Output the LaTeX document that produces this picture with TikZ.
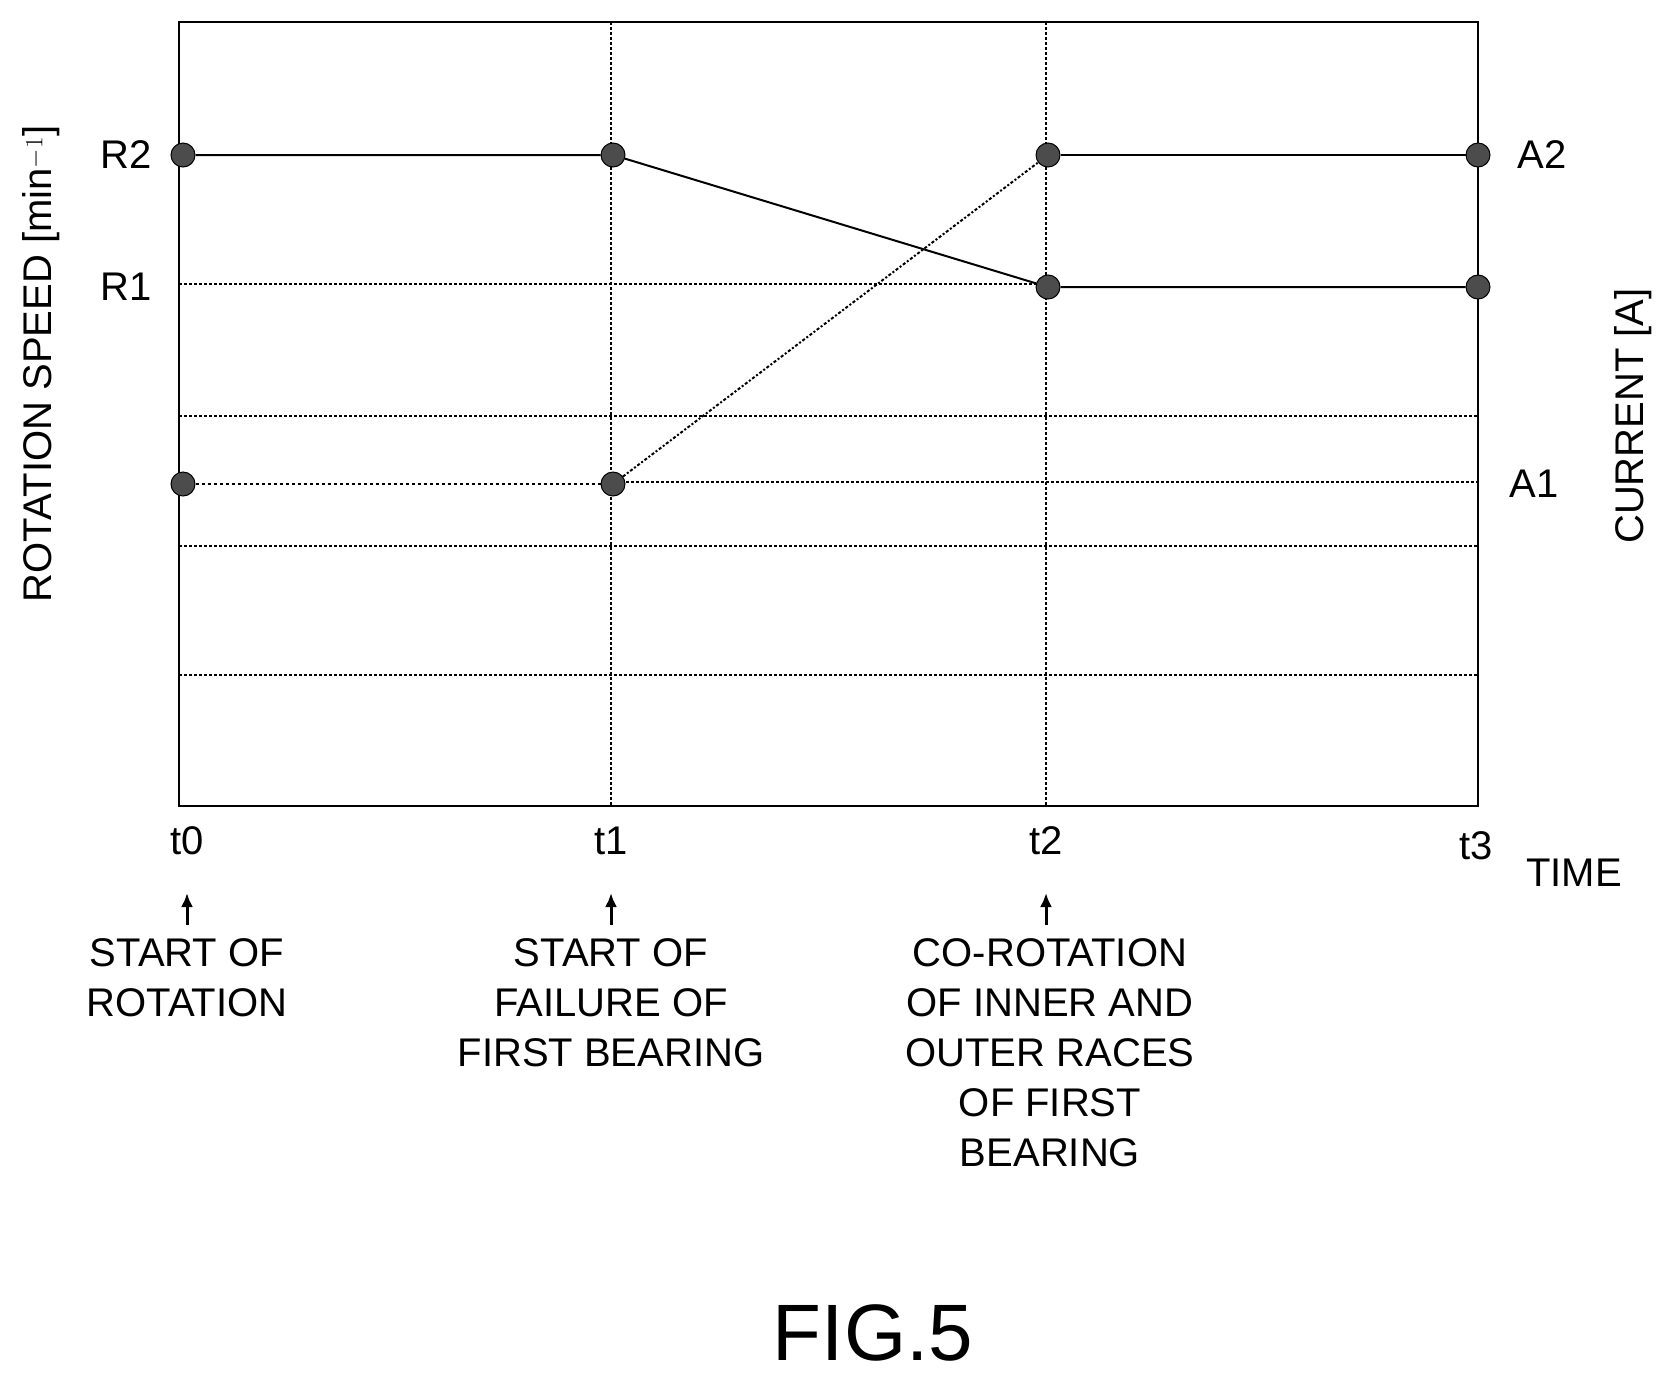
\documentclass[tikz,border=0pt]{standalone}
\usepackage{fontspec}
\setmainfont{Liberation Sans}
\usetikzlibrary{arrows.meta}
\begin{document}
\begin{tikzpicture}[x=1pt,y=-1pt,
  grid/.style={densely dashed,line width=1.2pt},
  main/.style={line width=2pt},
  dot/.style={circle,fill=black!70,draw=black,line width=1pt,minimum size=24pt,inner sep=0pt},
  lbl/.style={font=\fontsize{40}{44}\selectfont,inner sep=0pt},
  captext/.style={font=\fontsize{40}{50}\selectfont,align=center,inner sep=0pt,anchor=north},
  arr/.style={-{Latex[length=14pt,width=12pt]},line width=3pt}]
\useasboundingbox (0,0) rectangle (1679,1385);
\draw[line width=2pt] (179,22) rectangle (1478,806);
\draw[grid] (611,22) -- (611,806);
\draw[grid] (1046,22) -- (1046,806);
\draw[grid] (179,284) -- (1046,284);
\foreach \y in {416,546,675} \draw[grid] (179,\y) -- (1478,\y);
\draw[grid] (611,482) -- (1478,482);
\node[dot] (a0) at (183,155) {};
\node[dot] (a1) at (613,155) {};
\node[dot] (a2) at (1048,155) {};
\node[dot] (a3) at (1478,155) {};
\node[dot] (b2) at (1048,287) {};
\node[dot] (b3) at (1478,287) {};
\node[dot] (c0) at (183,484) {};
\node[dot] (c1) at (613,484) {};
\draw[main] (a0) -- (a1) -- (b2) -- (b3);
\draw[main] (a2) -- (a3);
\draw[line width=2pt,dashed] (c0) -- (c1);
\draw[line width=2pt,dash dot] (c1) -- (a2);
\node[lbl] (r2) at (126,155) {R2};
\node[lbl] (r1) at (126,287) {R1};
\node[lbl] (A2) at (1542,155) {A2};
\node[lbl] (A1) at (1534,484) {A1};
\node[lbl,rotate=90] (ys) at (41,364) {ROTATION SPEED [min$^{-1}$]};
\node[lbl,rotate=90] (yc) at (1633,416) {CURRENT [A]};
\node[lbl] (t0) at (187,841) {t0};
\node[lbl] (t1) at (611,841) {t1};
\node[lbl] (t2) at (1046,841) {t2};
\node[lbl] (t3) at (1476,846) {t3};
\node[lbl] (tm) at (1574,873) {TIME};
\coordinate (e0) at (187,893); \coordinate (s0) at (187,925);
\coordinate (e1) at (611,893); \coordinate (s1) at (611,925);
\coordinate (e2) at (1046,893); \coordinate (s2) at (1046,925);
\draw[arr] (s0) -- (e0);
\draw[arr] (s1) -- (e1);
\draw[arr] (s2) -- (e2);
\node[captext] (c0t) at (187,938) {START OF\\ROTATION};
\node[captext] (c1t) at (611,938) {START OF\\FAILURE OF\\FIRST BEARING};
\node[captext] (c2t) at (1050,938) {CO-ROTATION\\OF INNER AND\\OUTER RACES\\OF FIRST\\BEARING};
\node[font=\fontsize{80}{90}\selectfont,inner sep=0pt] (fig) at (873,1333) {FIG.5};
\end{tikzpicture}
\end{document}
